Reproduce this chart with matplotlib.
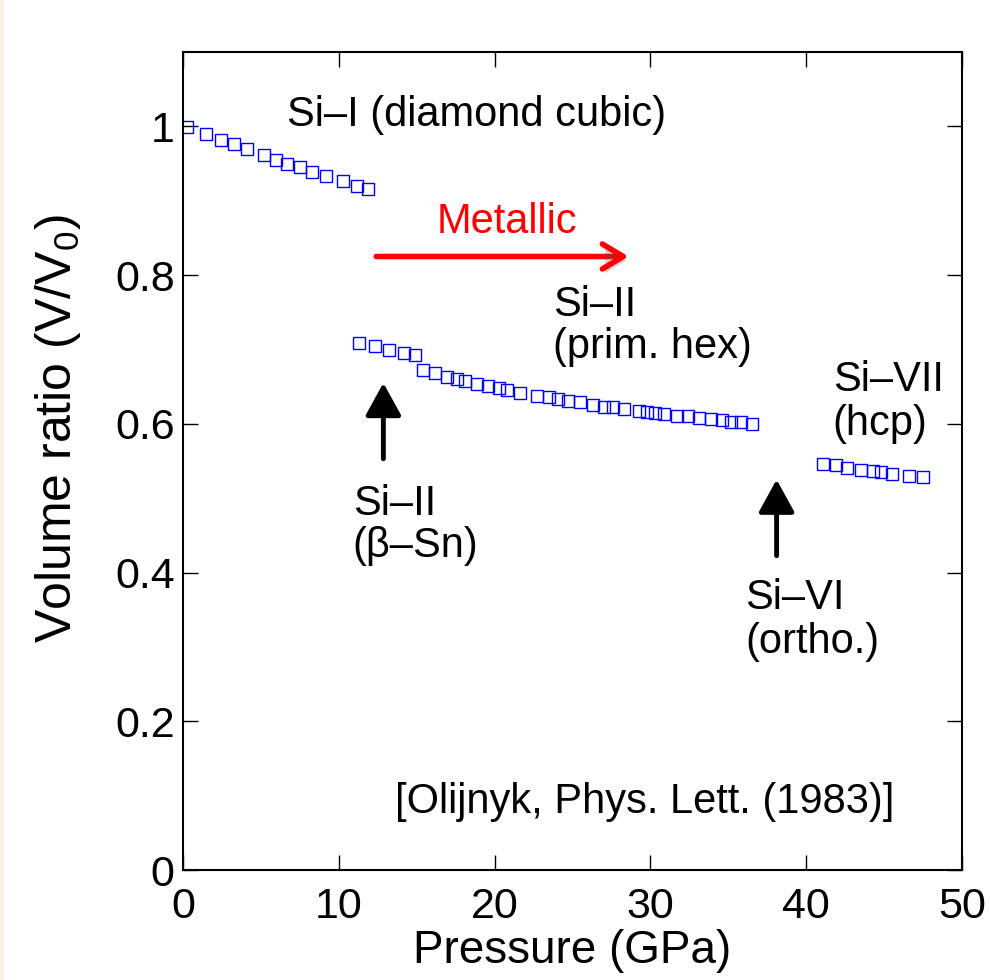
import numpy as np
import matplotlib
matplotlib.use('Agg')
import matplotlib.pyplot as plt
from matplotlib import patheffects as pe

plt.rcParams['font.family'] = ['Liberation Sans', 'DejaVu Sans']

# Si-I (diamond cubic)
p_si1 = [0.24, 1.46, 2.44, 3.25, 4.1, 5.2, 5.97, 6.68, 7.5, 8.25, 9.2, 10.3, 11.2, 11.9]
v_si1 = [0.999, 0.990, 0.982, 0.976, 0.969, 0.961, 0.955, 0.950, 0.945, 0.939, 0.933, 0.926, 0.920, 0.916]

# Si-II (beta-Sn) + prim. hex
p_si2 = [11.3, 12.3, 13.2, 14.2, 14.9, 15.4, 16.2, 16.96, 17.6, 18.1, 18.9, 19.6, 20.3, 20.8,
         21.6, 22.7, 23.5, 24.1, 24.7, 25.5, 26.3, 27.0, 27.6, 28.3, 29.3, 29.8, 30.3, 30.9,
         31.7, 32.4, 33.1, 33.9, 34.6, 35.2, 35.8, 36.5]
v_si2 = [0.709, 0.704, 0.699, 0.695, 0.692, 0.672, 0.668, 0.663, 0.660, 0.658, 0.654, 0.651,
         0.648, 0.646, 0.642, 0.638, 0.636, 0.633, 0.631, 0.629, 0.625, 0.623, 0.622, 0.620,
         0.617, 0.616, 0.614, 0.613, 0.611, 0.610, 0.608, 0.606, 0.605, 0.603, 0.602, 0.600]

# Si-VII (hcp)
p_si7 = [41.1, 41.9, 42.6, 43.5, 44.3, 44.8, 45.5, 46.6, 47.5]
v_si7 = [0.546, 0.544, 0.541, 0.538, 0.536, 0.535, 0.533, 0.530, 0.528]

xticks = [0, 10, 20, 30, 40, 50]
yticks = [0, 0.2, 0.4, 0.6, 0.8, 1.0]
ytick_labels = ['0', '0.2', '0.4', '0.6', '0.8', '1']

fs = 30

fig = plt.figure(figsize=(9.9, 9.8), dpi=100)
fig.patches.append(plt.Rectangle((0, 0), 3 / 990, 1, transform=fig.transFigure,
                                 color='#faf3e6', zorder=0))
ax = fig.add_axes([183 / 990, 1 - 870 / 980, (962 - 183) / 990, (870 - 52) / 980])

mk = dict(linestyle='none', marker='s', markersize=8, markerfacecolor='none',
          markeredgecolor='#0000ff', markeredgewidth=1.0)
ax.plot(p_si1, v_si1, **mk)
ax.plot(p_si2, v_si2, **mk)
ax.plot(p_si7, v_si7, **mk)

ax.set_xlim(0, 50)
ax.set_ylim(0, 1.1)
ax.set_xticks(xticks)
ax.set_yticks(yticks)
ax.set_yticklabels(ytick_labels)
ax.tick_params(direction='in', length=11, width=1, labelsize=31,
               top=True, right=True, pad=6)
ax.tick_params(axis='x', pad=12)
for s in ax.spines.values():
    s.set_linewidth(1.5)

ax.set_xlabel('Pressure (GPa)', fontsize=33, labelpad=2)
ax.set_ylabel('Volume ratio (V/V$_\\mathregular{0}$)', fontsize=36)
ax.yaxis.set_label_coords(-0.128, 0.54)

# annotations
ax.text(6.7, 1.0, 'Si\u2013I (diamond cubic)', fontsize=fs, va='baseline')
ax.text(16.3, 0.857, 'Metallic', fontsize=fs, color='#ff0000', va='baseline')
ax.annotate('', xy=(28.6, 0.825), xytext=(12.4, 0.825),
            arrowprops=dict(arrowstyle='->,head_length=1.5,head_width=0.9', lw=4,
                            color='#ff0000', shrinkA=0, shrinkB=0, mutation_scale=10,
                            path_effects=[pe.SimplePatchShadow(offset=(2, -3), alpha=0.25),
                                          pe.Normal()]))
# multi-line labels: y is the baseline of the second line
ax.text(23.75, 0.689, 'Si\u2013II\n(prim. hex)', fontsize=fs, va='baseline', linespacing=1.05)
ax.text(10.9, 0.421, 'Si\u2013II\n(\u03b2\u2013Sn)', fontsize=fs, va='baseline', linespacing=1.05)
ax.text(41.7, 0.585, 'Si\u2013VII\n(hcp)', fontsize=fs, va='baseline', linespacing=1.12)
ax.text(36.1, 0.292, 'Si\u2013VI\n(ortho.)', fontsize=fs, va='baseline', linespacing=1.12)
ax.text(13.6, 0.0767, '[Olijnyk, Phys. Lett. (1983)]', fontsize=fs, va='baseline')

black_arrow = dict(arrowstyle='-|>,head_length=2.0,head_width=1.1', lw=3.5, color='black',
                   shrinkA=0, shrinkB=0, mutation_scale=10)
ax.annotate('', xy=(12.86, 0.655), xytext=(12.86, 0.553), arrowprops=black_arrow)
ax.annotate('', xy=(38.1, 0.525), xytext=(38.1, 0.4226), arrowprops=black_arrow)

fig.savefig('out.png', dpi=100)
